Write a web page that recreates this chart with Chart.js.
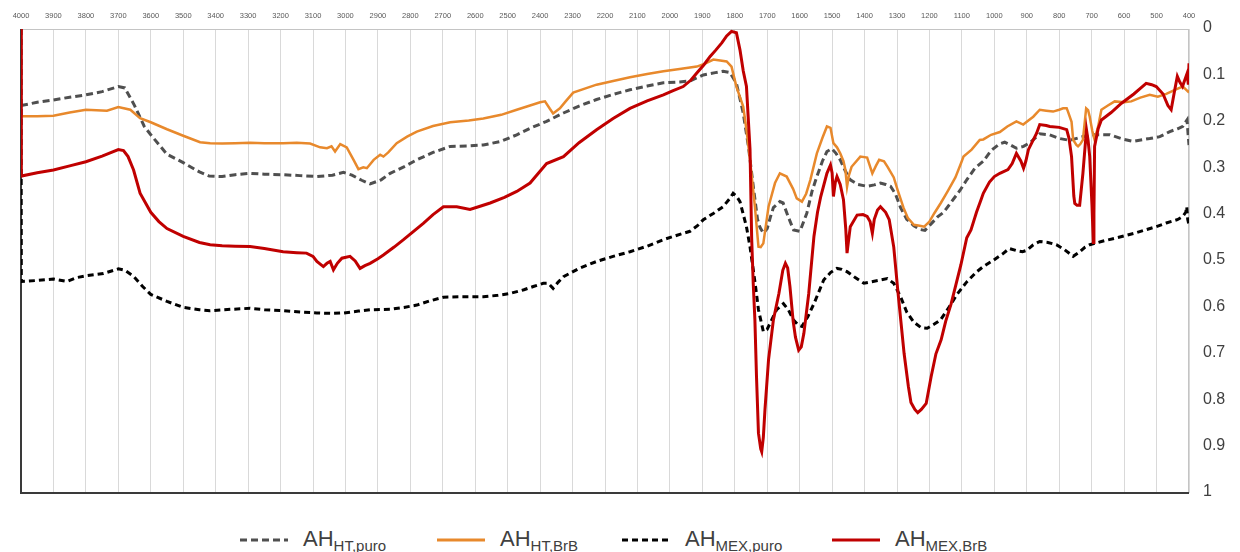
<!DOCTYPE html>
<html>
<head>
<meta charset="utf-8">
<script src="https://cdn.jsdelivr.net/npm/chart.js@4"></script>
<style>
    body{margin:0;background:#fff;width:1240px;height:552px;overflow:hidden;}
    #wrap{position:relative;width:1240px;height:500px;}
    #legend{position:absolute;left:0;top:518px;width:1240px;height:44px;
        font-family:"Liberation Sans Narrow","Liberation Sans",sans-serif;color:#404040;font-size:22px;}
    .item{position:absolute;top:0;height:44px;display:flex;align-items:center;white-space:nowrap;}
    .item svg{margin-right:15px;}
    .item sub{font-size:15px;vertical-align:-5px;}
</style>
</head>
<body>
<div id="wrap"><canvas id="myChart" width="1240" height="500"></canvas></div>
<div id="legend"></div>
<script>
// AH HT,puro (grey dashed)
const htPuroWn=[4000,3950,3900,3850,3800,3750,3700,3680,3650,3620,3600,3550,3500,3450,3420,3380,3340,3294,3250,3192,3140,3088,3040,3006,2980,2950,2924,2890,2862,2820,2780,2730,2677,2620,2575,2520,2472,2431,2380,2328,2280,2226,2175,2123,2070,2020,1970,1938,1897,1860,1836,1815,1795,1774,1758,1743,1730,1722,1712,1700,1690,1681,1661,1651,1635,1619,1599,1578,1562,1547,1530,1516,1501,1488,1475,1460,1444,1420,1392,1370,1351,1335,1320,1305,1289,1270,1248,1230,1214,1195,1175,1156,1136,1105,1085,1060,1034,1010,985,968,950,932,910,890,860,830,799,768,737,706,670,644,600,572,540,521,490,459,435,419,410,406,403,400];
const htPuroAbs=[0.165,0.158,0.153,0.147,0.142,0.135,0.124,0.127,0.165,0.21,0.228,0.27,0.288,0.308,0.317,0.318,0.314,0.311,0.313,0.314,0.316,0.318,0.315,0.309,0.315,0.326,0.334,0.325,0.311,0.297,0.282,0.266,0.253,0.252,0.25,0.242,0.228,0.214,0.199,0.181,0.166,0.152,0.141,0.131,0.123,0.116,0.114,0.112,0.099,0.094,0.091,0.094,0.117,0.181,0.253,0.339,0.41,0.428,0.44,0.43,0.405,0.385,0.372,0.375,0.405,0.433,0.436,0.397,0.35,0.318,0.285,0.264,0.258,0.268,0.282,0.305,0.325,0.335,0.339,0.336,0.332,0.335,0.339,0.355,0.385,0.41,0.424,0.432,0.434,0.42,0.405,0.395,0.376,0.347,0.325,0.3,0.285,0.262,0.248,0.244,0.25,0.257,0.253,0.245,0.226,0.228,0.236,0.24,0.234,0.228,0.228,0.228,0.238,0.242,0.238,0.236,0.232,0.221,0.215,0.21,0.2,0.196,0.225,0.25];

// AH HT,BrB (orange)
const htBrbWn=[4000,3950,3900,3850,3800,3735,3700,3663,3633,3600,3550,3500,3448,3417,3380,3340,3294,3250,3192,3150,3109,3078,3057,3043,3032,3016,2996,2975,2960,2945,2934,2913,2893,2883,2868,2842,2810,2780,2730,2677,2620,2575,2520,2472,2431,2400,2385,2370,2360,2339,2320,2298,2260,2226,2175,2123,2070,2020,1970,1917,1890,1866,1845,1825,1810,1795,1774,1764,1753,1738,1727,1720,1712,1696,1676,1661,1640,1620,1609,1593,1580,1567,1547,1530,1516,1505,1496,1485,1475,1465,1459,1454,1448,1440,1413,1392,1376,1365,1355,1340,1329,1310,1298,1280,1267,1248,1230,1216,1200,1185,1165,1144,1120,1103,1095,1070,1045,1034,1010,983,960,932,911,895,880,860,840,819,800,788,777,773,762,757,747,742,735,727,717,711,706,698,691,680,670,650,629,600,578,550,521,496,470,440,419,410,403,400];
const htBrbAbs=[0.188,0.188,0.187,0.18,0.174,0.176,0.168,0.174,0.192,0.201,0.216,0.23,0.244,0.246,0.247,0.246,0.245,0.246,0.246,0.245,0.247,0.255,0.257,0.253,0.264,0.248,0.255,0.282,0.302,0.298,0.3,0.282,0.271,0.275,0.266,0.246,0.232,0.221,0.209,0.201,0.197,0.193,0.185,0.174,0.165,0.158,0.156,0.172,0.182,0.171,0.155,0.137,0.128,0.12,0.112,0.104,0.097,0.091,0.086,0.081,0.074,0.066,0.068,0.07,0.081,0.124,0.167,0.217,0.282,0.383,0.469,0.47,0.462,0.383,0.332,0.311,0.318,0.345,0.365,0.372,0.355,0.325,0.268,0.235,0.21,0.213,0.246,0.255,0.268,0.285,0.304,0.34,0.315,0.297,0.275,0.277,0.311,0.295,0.282,0.285,0.297,0.32,0.347,0.385,0.407,0.422,0.424,0.426,0.415,0.397,0.375,0.35,0.32,0.29,0.275,0.26,0.239,0.238,0.228,0.222,0.21,0.199,0.206,0.197,0.189,0.174,0.176,0.178,0.174,0.171,0.171,0.178,0.2,0.239,0.25,0.253,0.248,0.239,0.171,0.175,0.189,0.22,0.239,0.21,0.174,0.165,0.156,0.158,0.156,0.148,0.142,0.146,0.14,0.13,0.124,0.13,0.135,0.132];

// AH MEX,puro (black dashed)
const mexPuroWn=[4000,3999,3950,3900,3858,3830,3800,3746,3700,3680,3653,3625,3600,3550,3500,3450,3417,3350,3294,3250,3192,3140,3088,3040,3006,2960,2924,2862,2820,2780,2740,2698,2640,2575,2530,2493,2450,2421,2390,2375,2360,2345,2328,2280,2226,2175,2123,2070,2020,1980,1938,1915,1897,1865,1836,1815,1805,1795,1784,1764,1753,1743,1735,1727,1712,1700,1691,1671,1650,1635,1619,1605,1593,1575,1556,1540,1526,1505,1485,1470,1454,1430,1402,1380,1351,1330,1310,1289,1270,1248,1225,1207,1185,1166,1140,1115,1085,1054,1034,1002,975,954,930,913,900,880,860,835,809,785,757,740,720,706,670,629,600,567,530,501,470,436,419,410,407,404,401,400];
const mexPuroAbs=[0,0.544,0.542,0.539,0.544,0.536,0.532,0.527,0.517,0.52,0.533,0.555,0.572,0.587,0.6,0.605,0.607,0.604,0.602,0.605,0.607,0.61,0.612,0.613,0.612,0.608,0.605,0.604,0.6,0.595,0.586,0.578,0.577,0.577,0.574,0.57,0.562,0.555,0.548,0.548,0.559,0.546,0.534,0.516,0.501,0.49,0.48,0.468,0.454,0.445,0.436,0.424,0.411,0.397,0.383,0.365,0.354,0.36,0.372,0.426,0.47,0.519,0.56,0.605,0.652,0.647,0.634,0.605,0.592,0.605,0.627,0.638,0.641,0.62,0.592,0.565,0.541,0.525,0.516,0.518,0.523,0.535,0.548,0.545,0.541,0.538,0.548,0.577,0.61,0.632,0.644,0.645,0.636,0.627,0.6,0.572,0.545,0.523,0.512,0.498,0.485,0.473,0.478,0.48,0.477,0.465,0.458,0.46,0.465,0.475,0.49,0.482,0.47,0.465,0.458,0.451,0.446,0.44,0.432,0.426,0.418,0.411,0.404,0.395,0.383,0.41,0.419,0.412];

// AH MEX,BrB (dark red)
const mexBrbWn=[4000,3999,3950,3900,3850,3800,3750,3700,3684,3670,3653,3633,3600,3575,3550,3500,3450,3417,3380,3340,3294,3250,3192,3150,3120,3100,3088,3068,3057,3047,3037,3025,3011,2986,2970,2955,2940,2924,2900,2883,2850,2821,2790,2760,2730,2698,2657,2616,2585,2554,2510,2472,2431,2380,2328,2280,2226,2175,2123,2070,2020,1990,1959,1935,1917,1895,1876,1858,1840,1825,1810,1795,1784,1774,1764,1753,1748,1743,1738,1733,1727,1720,1717,1712,1707,1696,1681,1664,1652,1644,1637,1630,1620,1613,1603,1595,1587,1572,1556,1545,1535,1516,1505,1500,1496,1490,1485,1475,1465,1458,1454,1450,1444,1423,1405,1392,1383,1376,1370,1360,1351,1335,1324,1310,1298,1288,1278,1265,1257,1245,1236,1225,1210,1195,1180,1164,1150,1133,1118,1103,1085,1072,1055,1041,1034,1015,1000,983,958,945,932,918,910,903,895,880,870,860,840,829,800,777,770,762,755,752,745,737,727,716,711,706,699,695,693,691,680,670,640,608,570,550,532,515,501,480,465,455,445,436,428,420,413,406,402,400];
const mexBrbAbs=[0,0.317,0.31,0.304,0.295,0.286,0.274,0.26,0.262,0.275,0.304,0.354,0.395,0.415,0.43,0.447,0.46,0.465,0.467,0.468,0.469,0.473,0.48,0.482,0.483,0.49,0.501,0.512,0.505,0.501,0.519,0.505,0.494,0.49,0.5,0.516,0.51,0.505,0.495,0.487,0.47,0.454,0.436,0.419,0.4,0.383,0.383,0.389,0.382,0.375,0.363,0.35,0.332,0.29,0.275,0.245,0.217,0.193,0.171,0.155,0.142,0.133,0.124,0.11,0.095,0.077,0.059,0.045,0.03,0.015,0.005,0.008,0.045,0.09,0.124,0.26,0.45,0.55,0.627,0.75,0.871,0.905,0.911,0.88,0.821,0.713,0.627,0.57,0.52,0.505,0.515,0.555,0.63,0.664,0.692,0.685,0.656,0.57,0.447,0.395,0.361,0.311,0.293,0.31,0.361,0.33,0.318,0.335,0.368,0.43,0.483,0.46,0.426,0.401,0.4,0.404,0.415,0.44,0.41,0.39,0.383,0.395,0.411,0.47,0.56,0.63,0.7,0.77,0.805,0.82,0.827,0.82,0.807,0.75,0.7,0.67,0.63,0.592,0.55,0.508,0.45,0.433,0.395,0.368,0.354,0.33,0.318,0.311,0.303,0.29,0.268,0.285,0.3,0.285,0.26,0.239,0.225,0.206,0.208,0.21,0.212,0.217,0.235,0.275,0.36,0.376,0.38,0.38,0.311,0.217,0.24,0.275,0.38,0.46,0.4,0.253,0.215,0.196,0.18,0.16,0.14,0.128,0.117,0.12,0.124,0.14,0.165,0.174,0.135,0.102,0.115,0.124,0.11,0.096,0.12,0.074];

const wnTicks={min:400,max:4000,step:100};
const absTicks={min:0,max:1,step:0.1};

function toPoints(wn,abs){
    return wn.map((w,i)=>({x:w,y:abs[i]}));
}

const series=[
    {name:'AH',sub:'HT,puro',wn:htPuroWn,abs:htPuroAbs,color:'#4f4f4f',dash:[7,4],width:3,order:3,legendX:240},
    {name:'AH',sub:'HT,BrB',wn:htBrbWn,abs:htBrbAbs,color:'#e8892c',dash:[],width:2.5,order:2,legendX:437},
    {name:'AH',sub:'MEX,puro',wn:mexPuroWn,abs:mexPuroAbs,color:'#000000',dash:[6,4],width:3,order:1,legendX:622},
    {name:'AH',sub:'MEX,BrB',wn:mexBrbWn,abs:mexBrbAbs,color:'#c00000',dash:[],width:3,order:0,legendX:832}
];

// frame: light top/right, dark left/bottom
const frame={
    id:'frame',
    beforeDatasetsDraw(chart){
        const a=chart.chartArea, c=chart.ctx;
        c.save();
        c.lineWidth=1;
        c.strokeStyle='#c4c4c4';
        c.beginPath();
        c.moveTo(a.left,a.top+0.5);c.lineTo(a.right,a.top+0.5);
        c.moveTo(a.right-0.5,a.top);c.lineTo(a.right-0.5,a.bottom);
        c.stroke();
        c.lineWidth=2;
        c.strokeStyle='#3a3a3a';
        c.beginPath();
        c.moveTo(a.left,a.top);c.lineTo(a.left,a.bottom);c.lineTo(a.right,a.bottom);
        c.stroke();
        c.restore();
    }
};

const ctx=document.getElementById('myChart').getContext('2d');
new Chart(ctx,{
    type:'line',
    data:{
        datasets:series.map(s=>({
            label:s.name+s.sub,
            data:toPoints(s.wn,s.abs),
            borderColor:s.color,
            borderDash:s.dash,
            borderWidth:s.width,
            pointRadius:0,
            tension:0,
            fill:false,
            order:s.order
        }))
    },
    options:{
        responsive:false,
        animation:false,
        layout:{padding:{left:21,right:14,top:11,bottom:7}},
        plugins:{legend:{display:false},tooltip:{enabled:false}},
        scales:{
            x:{
                type:'linear',position:'top',reverse:true,
                min:wnTicks.min,max:wnTicks.max,
                border:{display:false},
                grid:{color:'#d9d9d9',lineWidth:1,drawTicks:false},
                ticks:{stepSize:wnTicks.step,autoSkip:false,maxRotation:0,padding:9,color:'#595959',
                    font:{family:'Liberation Sans',size:7.5},
                    callback:v=>String(v)},
                afterFit(scale){
                    scale.height=18;
                    scale.paddingLeft=0;
                    scale.paddingRight=0;
                }
            },
            y:{
                type:'linear',position:'right',reverse:true,
                min:absTicks.min,max:absTicks.max,
                border:{display:false},
                grid:{display:false,drawTicks:false},
                ticks:{stepSize:absTicks.step,padding:14,labelOffset:-1,color:'#404040',
                    font:{family:'Liberation Sans',size:16},
                    callback:v=>String(Number(v.toFixed(1)))},
                afterFit(scale){
                    scale.width=37;
                    scale.paddingTop=0;
                    scale.paddingBottom=0;
                }
            }
        }
    },
    plugins:[frame]
});

// legend with subscripts
let legendHtml='';
for(let i=0;i<series.length;i++){
    const s=series[i];
    legendHtml+=`<div class="item" style="left:${s.legendX}px"><svg width="48" height="6"><line x1="0" y1="3" x2="48" y2="3" stroke="${s.color}" stroke-width="3" stroke-dasharray="${s.dash.join(' ')}"/></svg><span>${s.name}<sub>${s.sub}</sub></span></div>`;
}
document.getElementById('legend').innerHTML=legendHtml;
</script>
</body>
</html>
